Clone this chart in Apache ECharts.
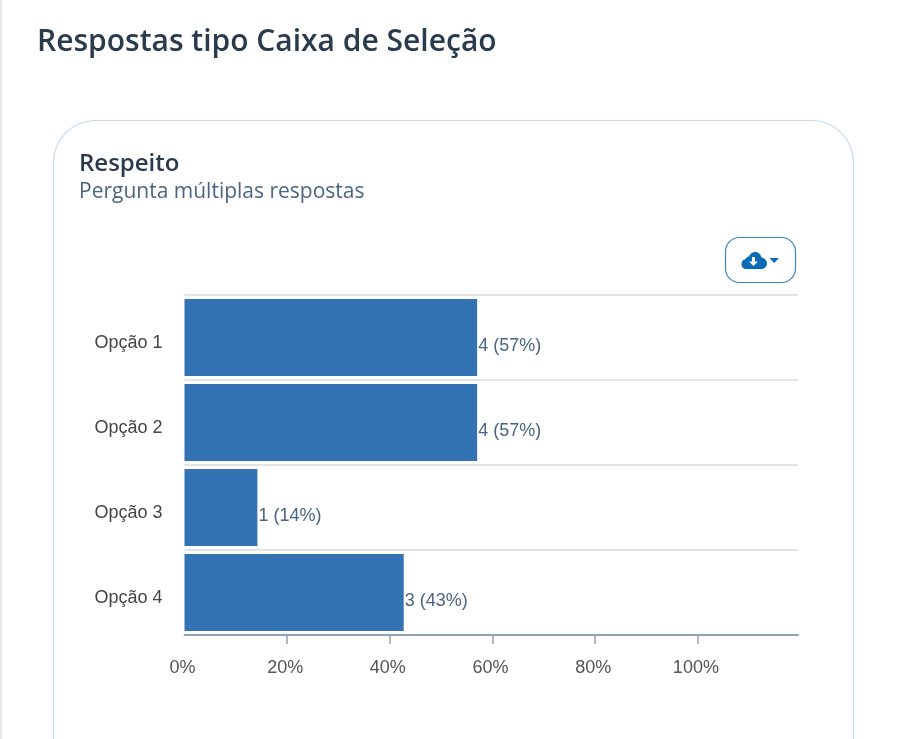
<!DOCTYPE html>
<html><head><meta charset="utf-8">
<style>html,body{margin:0;padding:0;background:#fff}#c{width:924px;height:739px}</style>
<script src="https://cdn.jsdelivr.net/npm/echarts@6/dist/echarts.min.js"></script>
</head><body><div id="c"></div>
<script>
const categories = ['Opção 1','Opção 2','Opção 3','Opção 4'];
const counts = [4,4,1,3];
const percents = [57,57,14.2,42.7];
const roundedPct = [57,57,14,43];
const tickValues = [20,40,60,80,100];
const pageTitle = 'Respostas tipo Caixa de Seleção';
const cardTitle = 'Respeito';
const cardSubtitle = 'Pergunta múltiplas respostas';

echarts.graphic.registerShape('cloudIcon', echarts.graphic.extendPath('M746 269 C743 269 741.5 266.5 741.5 264 C741.5 261.5 743 259.5 745.5 259 C746 258 747 256.5 749 256.5 C750 253.5 752.5 252 755 252 C758.5 252 761 254.5 761.5 257.5 C764.5 258 767 260.5 767 263.5 C767 266.5 764.5 269 761.5 269 Z'));
echarts.graphic.registerShape('cloudArrow', echarts.graphic.extendPath('M752 257 L755 257 L755 261.5 L758 261.5 L753.5 266 L749 261.5 L752 261.5 Z'));

const chart = echarts.init(document.getElementById('c'), null, {renderer:'canvas'});
chart.setOption({
  animation:false,
  backgroundColor:'#fff',
  title:[
    {text:pageTitle,left:32,top:22,textStyle:{fontFamily:'Open Sans',fontSize:30,fontWeight:600,color:'#2a3b4d'}},
    {text:cardTitle,left:74,top:147,textStyle:{fontFamily:'Open Sans',fontSize:24,fontWeight:600,color:'#2a3b4d'}},
    {text:cardSubtitle,left:74,top:177,textStyle:{fontFamily:'Open Sans',fontSize:21,fontWeight:400,color:'#4a6583'}}
  ],
  grid:{left:184.5,top:295,width:613.5,height:340,containLabel:false},
  xAxis:{type:'value',min:0,max:119.5,interval:20,
    axisLine:{show:true,lineStyle:{color:'#8fa3b3',width:2}},
    axisTick:{show:true,length:9,customValues:tickValues,lineStyle:{color:'#8fa3b3',width:1.5}},
    splitLine:{show:false},
    axisLabel:{margin:24,fontFamily:'Liberation Sans',fontSize:18,color:'#555',
      showMaxLabel:false,formatter:'{value}%',padding:[0,4,0,0]}},
  yAxis:{type:'category',data:categories,inverse:true,
    axisLine:{show:false},
    axisTick:{show:false},
    splitLine:{show:true,lineStyle:{color:'#e4e4e4',width:2}},
    axisLabel:{margin:22,fontFamily:'Liberation Sans',fontSize:18,color:'#444',verticalAlign:'top',lineHeight:12}},
  series:[{type:'bar',data:percents,barWidth:77,
    itemStyle:{color:'#3473b3'},
    label:{show:true,position:'right',distance:1,offset:[0,8.5],
      fontFamily:'Liberation Sans',fontSize:18,color:'#4a6583',
      formatter:p=>counts[p.dataIndex]+' ('+roundedPct[p.dataIndex]+'%)'}}],
  graphic:[
    {type:'rect',silent:true,z:-10,shape:{x:1,y:-20,width:960,height:800,r:14},style:{fill:'#fff',stroke:'#e8e8e8',lineWidth:2}},
    {type:'rect',silent:true,z:-9,shape:{x:53.5,y:120.5,width:800,height:680,r:42},style:{fill:'#fff',stroke:'#c2daf0',lineWidth:1.2}},
    {type:'rect',silent:true,z:5,shape:{x:725.5,y:237.5,width:70,height:45,r:14},style:{fill:'#fff',stroke:'#3a86c4',lineWidth:1.2}},
    {type:'cloudIcon',silent:true,z:6,style:{fill:'#0a6ab5'}},
    {type:'cloudArrow',silent:true,z:7,style:{fill:'#fff'}},
    {type:'polygon',silent:true,z:6,shape:{points:[[769.5,258],[779,258],[774.25,263]]},style:{fill:'#0a6ab5'}}
  ]
});
</script></body></html>
